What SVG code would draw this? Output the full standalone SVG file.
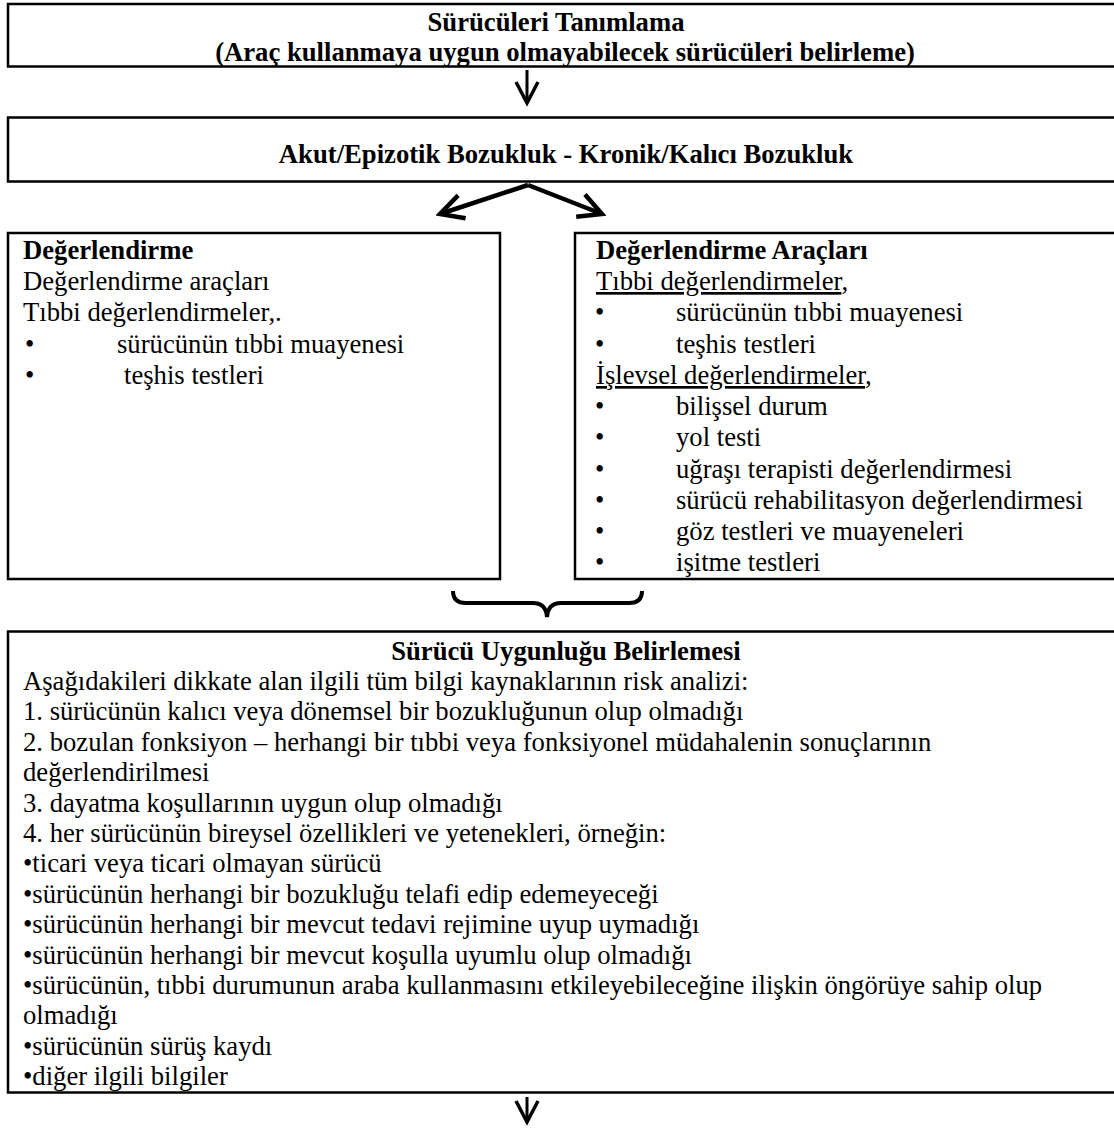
<svg xmlns="http://www.w3.org/2000/svg" width="1114" height="1129" viewBox="0 0 1114 1129">
<style>
.box{fill:#fff;stroke:#000;stroke-width:2.5}
.t{font-family:"Liberation Serif","Times New Roman",serif;font-size:26.67px;fill:#000}
.b{font-weight:bold}
.c{text-anchor:middle}
.u{text-decoration:underline}
.con{fill:none;stroke:#000;stroke-linejoin:miter}
</style>
<defs>
<marker id="ah" viewBox="-26 -14 30 28" refX="0" refY="0" markerWidth="30" markerHeight="28" markerUnits="userSpaceOnUse" orient="auto">
<path d="M-21,-11 L0,0 L-21,11" fill="none" stroke="#000" stroke-width="3.5"/>
</marker>
<marker id="ah2" viewBox="-28 -16 32 32" refX="0" refY="0" markerWidth="32" markerHeight="32" markerUnits="userSpaceOnUse" orient="auto">
<path d="M-23,-12 L0,0 L-23,12" fill="none" stroke="#000" stroke-width="4.5"/>
</marker>
</defs>
<rect x="0" y="0" width="1114" height="1129" fill="#fff"/>

<g id="node-tanimlama">
<rect class="box" x="8" y="4" width="1120" height="62.5"/>
<text class="t b c" x="556" y="31">Sürücüleri Tanımlama</text>
<text class="t b c" x="565" y="61">(Araç kullanmaya uygun olmayabilecek sürücüleri belirleme)</text>
</g>

<g id="node-bozukluk">
<rect class="box" x="8" y="117.5" width="1120" height="64"/>
<text class="t b c" x="566" y="163">Akut/Epizotik Bozukluk - Kronik/Kalıcı Bozukluk</text>
</g>

<g id="node-degerlendirme">
<rect class="box" x="8" y="233" width="492" height="346"/>
<text class="t b" x="23" y="259">Değerlendirme</text>
<text class="t" x="23" y="290">Değerlendirme araçları</text>
<text class="t" x="23" y="321">Tıbbi değerlendirmeler,.</text>
<text class="t" x="25" y="353">•</text>
<text class="t" x="117" y="353">sürücünün tıbbi muayenesi</text>
<text class="t" x="25" y="384">•</text>
<text class="t" x="124" y="384">teşhis testleri</text>
</g>

<g id="node-araclar">
<rect class="box" x="575" y="233" width="560" height="346"/>
<text class="t b" x="596" y="259">Değerlendirme Araçları</text>
<text class="t" x="596" y="290"><tspan class="u">Tıbbi değerlendirmeler</tspan>,</text>
<text class="t" x="595" y="321">•</text>
<text class="t" x="676" y="321">sürücünün tıbbi muayenesi</text>
<text class="t" x="595" y="353">•</text>
<text class="t" x="676" y="353">teşhis testleri</text>
<text class="t" x="596" y="384"><tspan class="u">İşlevsel değerlendirmeler</tspan>,</text>
<text class="t" x="595" y="415">•</text>
<text class="t" x="676" y="415">bilişsel durum</text>
<text class="t" x="595" y="446">•</text>
<text class="t" x="676" y="446">yol testi</text>
<text class="t" x="595" y="478">•</text>
<text class="t" x="676" y="478">uğraşı terapisti değerlendirmesi</text>
<text class="t" x="595" y="509">•</text>
<text class="t" x="676" y="509">sürücü rehabilitasyon değerlendirmesi</text>
<text class="t" x="595" y="540">•</text>
<text class="t" x="676" y="540">göz testleri ve muayeneleri</text>
<text class="t" x="595" y="571">•</text>
<text class="t" x="676" y="571">işitme testleri</text>
</g>

<g id="node-uygunluk">
<rect class="box" x="8" y="631.5" width="1120" height="461"/>
<text class="t b c" x="566" y="660">Sürücü Uygunluğu Belirlemesi</text>
<text class="t" x="23" y="690">Aşağıdakileri dikkate alan ilgili tüm bilgi kaynaklarının risk analizi:</text>
<text class="t" x="23" y="720.4">1. sürücünün kalıcı veya dönemsel bir bozukluğunun olup olmadığı</text>
<text class="t" x="23" y="750.8">2. bozulan fonksiyon – herhangi bir tıbbi veya fonksiyonel müdahalenin sonuçlarının</text>
<text class="t" x="23" y="781.2">değerlendirilmesi</text>
<text class="t" x="23" y="811.6">3. dayatma koşullarının uygun olup olmadığı</text>
<text class="t" x="23" y="842">4. her sürücünün bireysel özellikleri ve yetenekleri, örneğin:</text>
<text class="t" x="23" y="872.4">•ticari veya ticari olmayan sürücü</text>
<text class="t" x="23" y="902.8">•sürücünün herhangi bir bozukluğu telafi edip edemeyeceği</text>
<text class="t" x="23" y="933.2">•sürücünün herhangi bir mevcut tedavi rejimine uyup uymadığı</text>
<text class="t" x="23" y="963.6">•sürücünün herhangi bir mevcut koşulla uyumlu olup olmadığı</text>
<text class="t" x="23" y="994">•sürücünün, tıbbi durumunun araba kullanmasını etkileyebileceğine ilişkin öngörüye sahip olup</text>
<text class="t" x="23" y="1024.4">olmadığı</text>
<text class="t" x="23" y="1054.8">•sürücünün sürüş kaydı</text>
<text class="t" x="23" y="1085.2">•diğer ilgili bilgiler</text>
</g>

<g id="connectors">
<line class="con" x1="527" y1="70" x2="527" y2="103" stroke-width="3" marker-end="url(#ah)"/>
<line class="con" x1="528" y1="185" x2="440" y2="214" stroke-width="4.5" marker-end="url(#ah2)"/>
<line class="con" x1="528" y1="185" x2="602" y2="214" stroke-width="4.5" marker-end="url(#ah2)"/>
<path class="con" stroke-width="4" d="M453,591 Q453,603 466,603 L533,603 Q546,603 547,617 Q548,603 561,603 L629,603 Q642,603 642,591"/>
<line class="con" x1="527" y1="1097" x2="527" y2="1122" stroke-width="3" marker-end="url(#ah)"/>
</g>
</svg>
